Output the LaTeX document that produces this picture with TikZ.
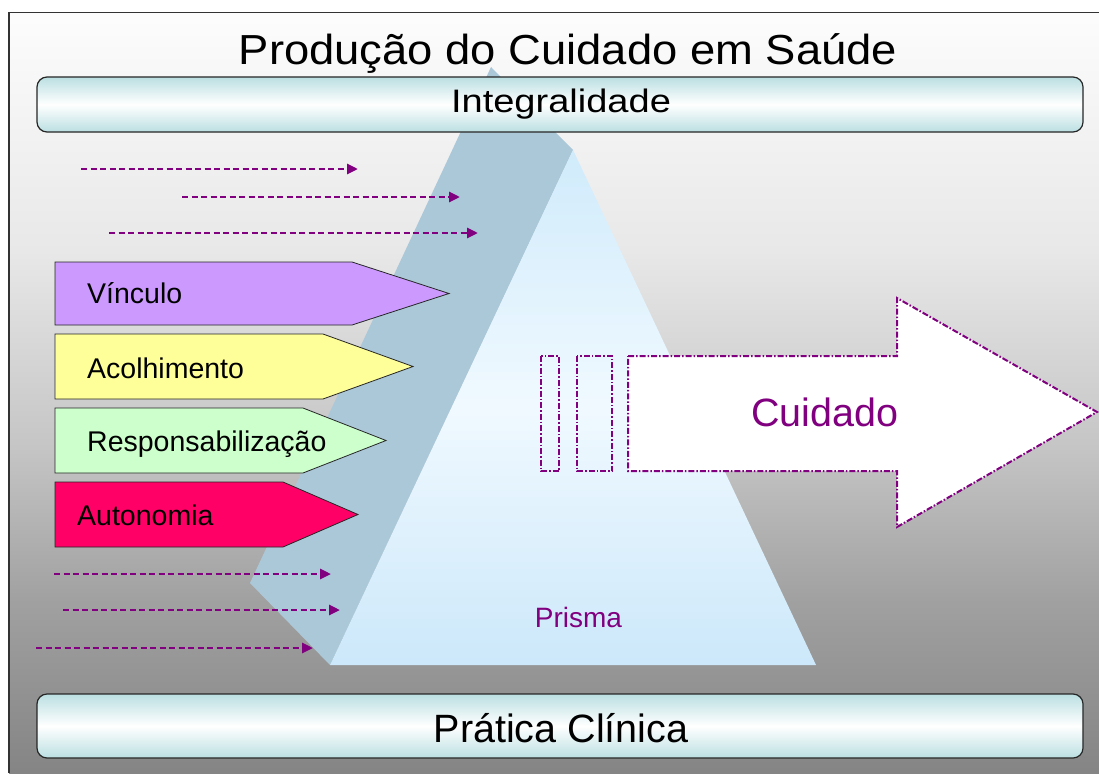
\documentclass[tikz,border=0pt]{standalone}
\usepackage{fontspec}
\setmainfont{Liberation Sans}
\usepackage{graphicx}
\usepackage{xcolor}
\usetikzlibrary{arrows.meta}
\definecolor{bandblue}{HTML}{ABC8D9}
\definecolor{prismtop}{HTML}{D0EBFB}
\definecolor{prismmid}{HTML}{F0F9FF}
\definecolor{prismbot}{HTML}{CCE8FA}
\definecolor{barteal}{HTML}{BBDFE2}
\definecolor{raypurple}{HTML}{800080}
\definecolor{vinc}{HTML}{CC99FF}
\definecolor{acol}{HTML}{FFFF99}
\definecolor{resp}{HTML}{CCFFCC}
\definecolor{auto}{HTML}{FF0066}

\begin{document}
\begin{tikzpicture}[x=1pt,y=-1pt,>={Triangle[length=11pt,width=10pt]}]
\tikzset{
    bar/.style={%
        draw=black!85, line width=1.2pt,
        rectangle,
        rounded corners=10pt,
        top color=barteal, bottom color=barteal, middle color=white,
        minimum width=1046pt
        },
    tag/.style={%
        draw=black!85, line width=0.8pt
        },
    tagtext/.style={%
        anchor=base west, inner sep=0pt,
        font=\fontsize{28.5}{34}\selectfont
        },
    ray/.style={%
        ->, draw=raypurple, line width=2.7pt,
        dash pattern=on 6pt off 3.5pt
        },
    cut/.style={%
        draw=raypurple, line width=2pt,
        dash pattern=on 6pt off 2pt on 1.5pt off 2pt
        },
}
\useasboundingbox (0,0) rectangle (1099,773);
\fill[white] (0,0) rectangle (1099,773);
%%%BACKGROUND
\shade[top color=black!1, bottom color=black!9] (9,12.5) rectangle (1099,250.5);
\shade[top color=black!9, bottom color=black!23] (9,250) rectangle (1099,450.5);
\shade[top color=black!23, bottom color=black!37] (9,450) rectangle (1099,600.5);
\shade[top color=black!37, bottom color=black!48] (9,600) rectangle (1099,773);
\draw[line width=1.4pt, black!80] (9,773) -- (9,12.5) -- (1099,12.5);
%%%PRISM
\fill[bandblue] (491,67) -- (573,150) -- (330,665) -- (250,583) -- cycle;
\shade[top color=prismtop, bottom color=prismbot, middle color=prismmid]
    (573,150) -- (816,665) -- (330,665) -- cycle;
\node[anchor=base, inner sep=0pt, text=raypurple, font=\fontsize{28}{34}\selectfont] (prisma) at (578.5,627) {Prisma};
%%%BARS
\node[bar, minimum height=55pt] (integ) at (560,104.5) {};
\node[bar, minimum height=64pt] (pratica) at (560,726) {};
\node[anchor=base, inner sep=0pt, font=\fontsize{42}{50}\selectfont] (title) at (568,65) {\scalebox{1.08}[1]{Produção do Cuidado em Saúde}};
\node[anchor=base, inner sep=0pt, font=\fontsize{32.5}{40}\selectfont] (integtext) at (561,113) {\scalebox{1.17}[1]{Integralidade}};
\node[anchor=base, inner sep=0pt, font=\fontsize{39.5}{46}\selectfont] (praticatext) at (561,742) {Prática Clínica};
%%%RAYS
\coordinate (r1s) at (81,169);  \coordinate (r1e) at (358,169);
\coordinate (r2s) at (182,197); \coordinate (r2e) at (460,197);
\coordinate (r3s) at (109,233); \coordinate (r3e) at (478,233);
\coordinate (r4s) at (54,574);  \coordinate (r4e) at (331,574);
\coordinate (r5s) at (63,610);  \coordinate (r5e) at (340,610);
\coordinate (r6s) at (36,648);  \coordinate (r6e) at (313,648);
\draw[ray] (r1s) -- (r1e);
\draw[ray] (r2s) -- (r2e);
\draw[ray] (r3s) -- (r3e);
\draw[ray] (r4s) -- (r4e);
\draw[ray] (r5s) -- (r5e);
\draw[ray] (r6s) -- (r6e);
%%%TAGS
\filldraw[tag, fill=vinc] (55,262) -- (352,262) -- (449,293.5) -- (352,325) -- (55,325) -- cycle;
\filldraw[tag, fill=acol] (55,334) -- (323,334) -- (413,366.5) -- (323,399) -- (55,399) -- cycle;
\filldraw[tag, fill=resp] (55,408) -- (303,408) -- (386,440.5) -- (303,473) -- (55,473) -- cycle;
\filldraw[tag, fill=auto] (55,482) -- (283,482) -- (358,514.5) -- (283,547) -- (55,547) -- cycle;
\node[tagtext] (vinculo) at (87,303) {Vínculo};
\node[tagtext] (acolhimento) at (87,378) {Acolhimento};
\node[tagtext] (responsab) at (87,451) {Responsabilização};
\node[tagtext] (autonomia) at (77,525) {Autonomia};
%%%CUIDADO
\draw[cut] (541,356) rectangle (559,471);
\draw[cut] (577,356) rectangle (612,471);
\filldraw[cut, fill=white] (628,356) -- (897,356) -- (897,298) -- (1097,412) -- (897,527) -- (897,471) -- (628,471) -- cycle;
\node[anchor=base, inner sep=0pt, text=raypurple, font=\fontsize{39.5}{46}\selectfont] (cuidado) at (825,426) {Cuidado};
\end{tikzpicture}
\end{document}
